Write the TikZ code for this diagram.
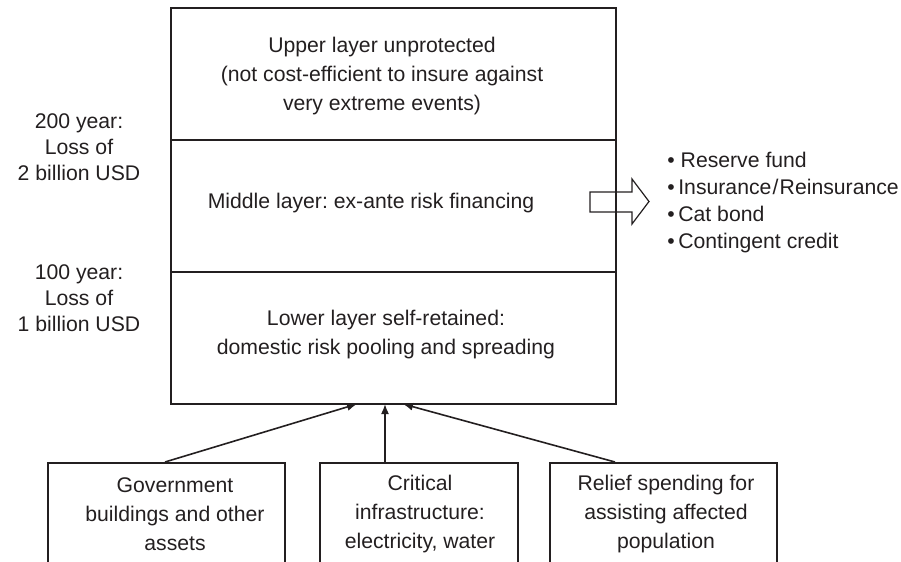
\documentclass[tikz,border=0pt]{standalone}
\usepackage{fontspec}
\setmainfont{Liberation Sans}
\usetikzlibrary{arrows.meta}
\usepackage{xcolor}
\definecolor{ctrait}{RGB}{35,31,32}
\frenchspacing

\tikzset{
  couche/.style={draw=ctrait, line width=0.9pt, minimum width=222.5pt, minimum height=66pt, inner sep=0pt},
  boite/.style={draw=ctrait, line width=0.9pt, minimum height=59pt, inner sep=0pt, anchor=north},
  texte/.style={align=center, inner sep=0pt, text=ctrait, font=\fontsize{10.6}{14.5}\selectfont},
  fleche/.style={ctrait, line width=0.8pt, -{Latex[length=5pt,width=4pt]}}
}

\begin{document}
\begin{tikzpicture}[x=0.5pt, y=-0.5pt, >=Stealth]
\useasboundingbox (0,0) rectangle (901,562);
% les trois couches
\node[couche] (upper) at (393.5,74) {};
\node[couche] (middle) at (393.5,206) {};
\node[couche] (lower) at (393.5,338) {};
\node[texte] (uppertxt) at (382,76) {Upper layer unprotected\\(not cost-efficient to insure against\\very extreme events)};
\node[texte] (middletxt) at (371,203) {Middle layer: ex-ante risk financing};
\node[texte] (lowertxt) at (386,335) {Lower layer self-retained:\\domestic risk pooling and spreading};
% periodes de retour
\node[texte, font=\fontsize{10.6}{13}\selectfont] (y200) at (79,147) {200 year:\\Loss of\\2 billion USD};
\node[texte, font=\fontsize{10.6}{13}\selectfont] (y100) at (79,298) {100 year:\\Loss of\\1 billion USD};
% fleche creuse et instruments
\draw[ctrait, line width=0.6pt] (590,192) -- (632,192) -- (632,179) -- (649,201.5)
  -- (632,224) -- (632,212) -- (590,212) -- cycle;
\node[texte, align=left, anchor=west, font=\fontsize{10.6}{13.5}\selectfont] (moyens) at (667,202.5)
  {\textbullet\ Reserve fund\\\textbullet\,Insurance\kern0.6pt/\kern0.6pt Reinsurance\\\textbullet\,Cat bond\\\textbullet\,Contingent credit};
% sources de pertes
\node[boite, minimum width=118.5pt] (gov) at (166.5,462) {};
\node[boite, minimum width=99pt] (infra) at (419,462) {};
\node[boite, minimum width=113.5pt] (relief) at (663.5,462) {};
\node[texte] (govtxt) at (175,514) {Government\\buildings and other\\assets};
\node[texte] (infratxt) at (420,514) {Critical\\infrastructure:\\electricity, water};
\node[texte] (relieftxt) at (666,514) {Relief spending for\\assisting affected\\population};
\coordinate (gov-top) at (165,462); \coordinate (infra-top) at (385,462); \coordinate (relief-top) at (615,462);
\coordinate (in1) at (357,404); \coordinate (in2) at (385,404); \coordinate (in3) at (403,404);
\foreach \a/\b in {gov-top/in1,infra-top/in2,relief-top/in3}
  \draw[fleche] (\a) -- (\b);
\end{tikzpicture}
\end{document}
